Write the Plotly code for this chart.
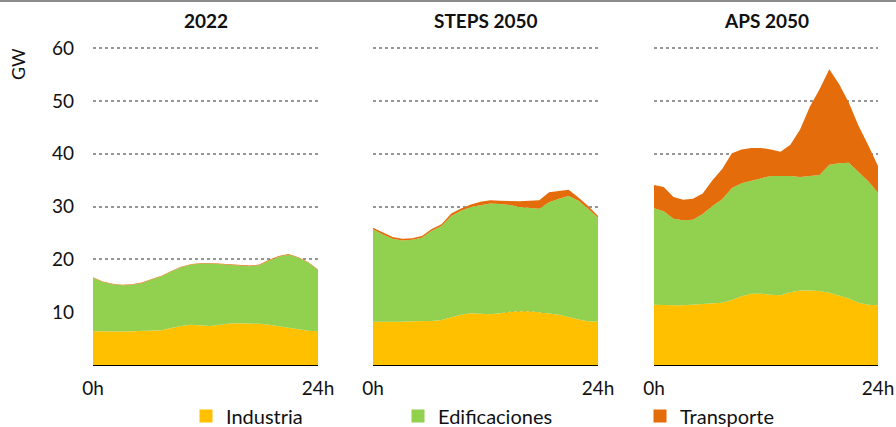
import plotly.graph_objects as go

hours = list(range(24))
x_tick_vals = [0, 23]
x_tick_text = ["0h", "24h"]
y_tick_vals = [10, 20, 30, 40, 50, 60]

panel_titles = ["2022", "STEPS 2050", "APS 2050"]
series_names = ["Industria", "Edificaciones", "Transporte"]

industria_2022 = [6.4, 6.35, 6.3, 6.35, 6.4, 6.45, 6.5, 6.6, 7.0, 7.4, 7.6, 7.5, 7.4, 7.6, 7.85, 7.9, 7.85, 7.8, 7.6, 7.3, 7.0, 6.7, 6.5, 6.4]
edificaciones_2022 = [10.1, 9.35, 9.0, 8.75, 8.8, 9.05, 9.7, 10.2, 10.7, 11.1, 11.4, 11.7, 11.8, 11.5, 11.15, 10.9, 10.85, 11.1, 12.2, 13.2, 13.9, 13.6, 12.9, 11.6]
transporte_2022 = [0.1, 0.1, 0.1, 0.1, 0.1, 0.1, 0.1, 0.1, 0.1, 0.1, 0.1, 0.1, 0.1, 0.1, 0.1, 0.12, 0.12, 0.12, 0.15, 0.15, 0.12, 0.1, 0.1, 0.1]

industria_steps = [8.2, 8.2, 8.15, 8.2, 8.3, 8.3, 8.35, 8.5, 9.0, 9.5, 9.8, 9.7, 9.6, 9.8, 10.1, 10.2, 10.2, 10.0, 9.8, 9.5, 9.1, 8.6, 8.3, 8.2]
edificaciones_steps = [17.5, 16.5, 15.75, 15.4, 15.4, 15.8, 17.05, 17.8, 19.2, 19.7, 20.1, 20.6, 21.0, 20.7, 20.2, 19.7, 19.5, 19.6, 21.0, 22.0, 22.9, 22.5, 21.3, 19.7]
transporte_steps = [0.3, 0.4, 0.35, 0.3, 0.3, 0.35, 0.35, 0.35, 0.5, 0.45, 0.5, 0.6, 0.6, 0.6, 0.7, 1.1, 1.4, 1.6, 1.9, 1.5, 1.2, 0.6, 0.5, 0.3]

industria_aps = [11.4, 11.3, 11.3, 11.3, 11.4, 11.5, 11.7, 11.8, 12.3, 13.0, 13.5, 13.5, 13.3, 13.2, 13.8, 14.1, 14.1, 14.0, 13.7, 13.2, 12.6, 11.8, 11.4, 11.3]
edificaciones_aps = [18.3, 17.8, 16.4, 16.1, 16.1, 17.1, 18.4, 19.6, 21.2, 21.4, 21.4, 21.9, 22.5, 22.6, 22.0, 21.5, 21.7, 22.0, 24.2, 25.0, 25.7, 24.7, 23.4, 21.3]
transporte_aps = [4.4, 4.6, 4.1, 3.9, 4.0, 3.9, 4.9, 5.7, 6.6, 6.4, 6.2, 5.7, 5.0, 4.6, 5.9, 9.0, 13.1, 16.2, 18.1, 15.0, 11.4, 8.8, 6.8, 5.1]

colors = ["#FFC000", "#92D050", "#E46C0A"]
FONT = "Lato"
TXT = "#111111"

panels = [
    [industria_2022, edificaciones_2022, transporte_2022],
    [industria_steps, edificaciones_steps, transporte_steps],
    [industria_aps, edificaciones_aps, transporte_aps],
]

W, H = 896, 427
Y_TOP = 60.6
ml, mr, mb = 93, 18, 62
px_per_unit = (365 - 48.3) / 60.0
mt = int(round(365 - Y_TOP * px_per_unit))
pw = W - ml - mr
ph = H - mt - mb

def px_x(p):
    return (p - ml) / pw

def px_y(p):
    return (H - mb - p) / ph

domains = [[px_x(93), px_x(318)], [px_x(373), px_x(598)], [px_x(654), px_x(878)]]

fig = go.Figure()
for i, series in enumerate(panels):
    xa = "x" if i == 0 else f"x{i+1}"
    ya = "y" if i == 0 else f"y{i+1}"
    for j, vals in enumerate(series):
        fig.add_trace(go.Scatter(
            x=hours, y=vals, xaxis=xa, yaxis=ya,
            stackgroup=f"s{i}", mode="lines",
            line=dict(width=0, color=colors[j]),
            fillcolor=colors[j], showlegend=False, hoverinfo="skip",
        ))

legend_names = ["legend", "legend2", "legend3"]
for j, name in enumerate(series_names):
    fig.add_trace(go.Scatter(
        x=[None], y=[None], mode="markers", name=name,
        marker=dict(symbol="square", size=13, color=colors[j]),
        legend=legend_names[j], showlegend=True,
    ))

layout = dict(
    width=W, height=H,
    margin=dict(l=ml, r=mr, t=mt, b=mb, autoexpand=False),
    paper_bgcolor="white", plot_bgcolor="white",
    font=dict(family=FONT, size=18, color=TXT),
)

marker_centers = [216, 428, 670]
for j, ln in enumerate(legend_names):
    layout[ln] = dict(
        x=px_x(marker_centers[j] - 30), y=px_y(416), xanchor="left", yanchor="middle",
        orientation="h", bgcolor="rgba(0,0,0,0)", font=dict(family=FONT, size=20, color=TXT),
        itemwidth=30, borderwidth=0,
    )

for i in range(3):
    xk = "xaxis" if i == 0 else f"xaxis{i+1}"
    yk = "yaxis" if i == 0 else f"yaxis{i+1}"
    layout[xk] = dict(
        domain=domains[i], range=[0, 23], tickvals=x_tick_vals, ticktext=x_tick_text,
        showgrid=False, zeroline=False, showline=True, linecolor="#000000", linewidth=1,
        ticks="", ticklabelstandoff=6, tickfont=dict(family=FONT, size=19, color=TXT),
        anchor="y" if i == 0 else f"y{i+1}", fixedrange=True,
    )
    layout[yk] = dict(
        domain=[0, 1], range=[0, Y_TOP], tickvals=y_tick_vals,
        showgrid=True, gridcolor="#969696", gridwidth=1.5, griddash="dot",
        zeroline=False, showline=False, ticks="",
        showticklabels=(i == 0), ticklabelstandoff=18,
        tickfont=dict(family=FONT, size=19, color=TXT),
        anchor="x" if i == 0 else f"x{i+1}", fixedrange=True,
    )

fig.update_layout(**layout)

centers = [(93 + 318) / 2, (373 + 598) / 2, (654 + 878) / 2]
for i, t in enumerate(panel_titles):
    fig.add_annotation(
        x=px_x(centers[i]), y=px_y(20), xref="paper", yref="paper",
        text=f"<b>{t}</b>", showarrow=False, xanchor="center", yanchor="middle",
        font=dict(family=FONT, size=19, color=TXT),
    )

fig.add_annotation(
    x=px_x(18), y=px_y(64), xref="paper", yref="paper", text="GW",
    textangle=-90, showarrow=False, xanchor="center", yanchor="middle",
    font=dict(family=FONT, size=18, color=TXT),
)

fig.add_shape(
    type="line", xref="paper", yref="paper",
    x0=px_x(0), x1=px_x(W), y0=px_y(1), y1=px_y(1),
    line=dict(color="#8c8c8c", width=2),
)

fig.write_html(
    "out.html",
    config={"displayModeBar": False},
    post_script="document.body.style.margin='0px';document.body.style.overflow='hidden';",
)
